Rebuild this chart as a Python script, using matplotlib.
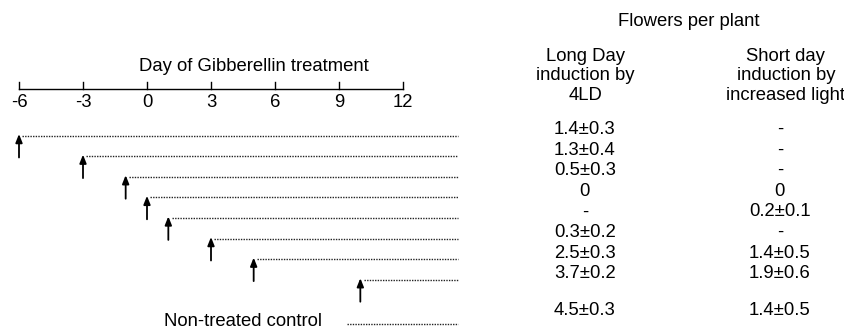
import matplotlib
matplotlib.use("Agg")
import matplotlib.pyplot as plt
import matplotlib.transforms as mtransforms

# time axis (days relative to gibberellin treatment)
axis_ticks = [-6, -3, 0, 3, 6, 9, 12]
# day on which each group was treated
treat_days = [-6, -3, -1, 0, 1, 3, 5, 10]
# flowers per plant
long_day = ["1.4\u00b10.3", "1.3\u00b10.4", "0.5\u00b10.3", "0", "-",
            "0.3\u00b10.2", "2.5\u00b10.3", "3.7\u00b10.2"]
short_day = ["-", "-", "-", "0", "0.2\u00b10.1", "-",
             "1.4\u00b10.5", "1.9\u00b10.6"]
control_long = "4.5\u00b10.3"
control_short = "1.4\u00b10.5"

W, H = 844, 329
PX_PER_DAY = 64 / 3.0
X0 = 147  # pixel column of day 0

plt.rcParams["font.family"] = ["Liberation Sans", "DejaVu Sans"]
FS = 13.3

fig = plt.figure(figsize=(W / 100, H / 100), dpi=100)
ax = fig.add_axes([0, 0, 1, 1])
ax.set_xlim(-X0 / PX_PER_DAY, (W - X0) / PX_PER_DAY)
ax.set_ylim(H, 0)
ax.axis("off")

# x in axes fraction, y in pixel rows
tab = mtransforms.blended_transform_factory(ax.transAxes, ax.transData)
dots = dict(color="#222222", lw=1.0, linestyle=(0, (1.0, 0.9)))

# --- time scale ---
axis_y = 89
ax.plot([axis_ticks[0], axis_ticks[-1]], [axis_y, axis_y], color="black", lw=1.0)
for t in axis_ticks:
    ax.plot([t, t], [axis_y, axis_y - 7], color="black", lw=1.0)
    ax.text(t, 107, str(t), ha="center", va="baseline", fontsize=FS)
ax.text(5, 71, "Day of Gibberellin treatment", ha="center", va="baseline", fontsize=FS)

# --- treatment rows ---
line_end = (458 - X0) / PX_PER_DAY
base_rows = [134 + 20.6 * i for i in range(len(treat_days))]
for d, by, lv, sv in zip(treat_days, base_rows, long_day, short_day):
    ly = by + 1.5
    ax.plot([d + 0.16, line_end], [ly, ly], **dots)
    ax.annotate("", xy=(d, ly - 1.5), xytext=(d, ly + 22),
                arrowprops=dict(arrowstyle="-|>,head_length=0.5,head_width=0.2",
                                color="black", lw=1.3, shrinkA=0, shrinkB=0))
    ax.text(0.693, by, lv, transform=tab, ha="center", va="baseline", fontsize=FS)
    ax.text(0.924, by, sv, transform=tab, ha="center", va="baseline", fontsize=FS)

# control row
ax.plot([(346.5 - X0) / PX_PER_DAY, line_end], [324, 324], **dots)
ax.text(4.5, 325.5, "Non-treated control", ha="center", va="baseline", fontsize=FS)
ax.text(0.693, 315, control_long, transform=tab, ha="center", va="baseline", fontsize=FS)
ax.text(0.924, 315, control_short, transform=tab, ha="center", va="baseline", fontsize=FS)

# --- table header ---
ax.text(0.816, 21, "Flowers per plant", transform=tab, ha="center", va="center", fontsize=FS)
ax.text(0.694, 76, "Long Day\ninduction by\n4LD", transform=tab, ha="center",
        va="center", fontsize=FS, linespacing=1.2)
ax.text(0.931, 76, "Short day\ninduction by\nincreased light", transform=tab,
        ha="center", va="center", fontsize=FS, linespacing=1.2)

fig.savefig("out.png", dpi=100)
